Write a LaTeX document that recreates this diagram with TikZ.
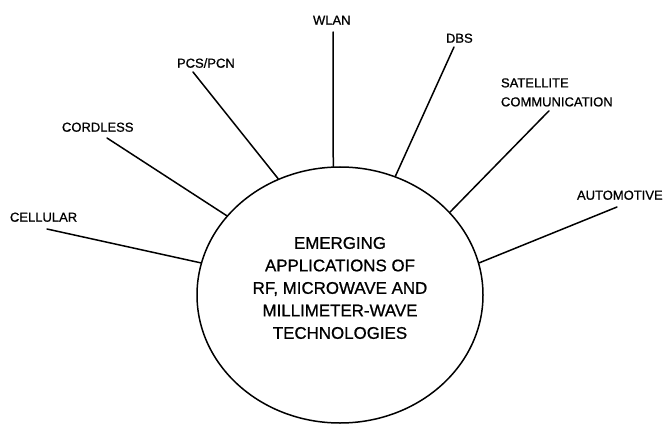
\documentclass[tikz,border=0pt]{standalone}
\usepackage{fontspec}
\setmainfont{Liberation Sans}[FakeBold=0.8]
\newfontfamily\heavy{Liberation Sans}[FakeBold=0.8]
\usetikzlibrary{shapes.geometric}

\tikzset{
  tag/.style={inner sep=0pt, outer sep=0pt, anchor=base west,
              font=\heavy\fontsize{13}{19}\selectfont},
  spoke/.style={line width=1.5pt, line cap=round},
  hub/.style={draw, ellipse, line width=1.5pt, inner sep=0pt,
              minimum width=286pt, minimum height=256pt}
}

\begin{document}
\begin{tikzpicture}[x=1pt, y=-1pt]
  \useasboundingbox (0,0) rectangle (664,425);

  % central ellipse and its title
  \node[hub] (hub) at (340,295) {};
  \node[align=center, inner sep=0pt, font=\heavy\fontsize{16.9}{22.5}\selectfont]
    (title) at (340,288)
    {EMERGING\\APPLICATIONS OF\\RF, MICROWAVE AND\\MILLIMETER-WAVE\\TECHNOLOGIES};

  % application labels
  \node[tag] (cell) at (10,221.7)  {CELLULAR};
  \node[tag] (cord) at (62,131.7)  {CORDLESS};
  \node[tag] (pcs)  at (177,67.7)  {PCS/PCN};
  \node[tag] (wlan) at (313,24.7)  {WLAN};
  \node[tag] (dbs)  at (446,42.7)  {DBS};
  \node[tag, anchor=north west, align=left] (sat) at (501,78.3)
    {SATELLITE\\COMMUNICATION};
  \node[tag] (auto) at (577,199.7) {AUTOMOTIVE};

  % spokes from each label to the ellipse
  \draw[spoke] ([shift={(37,7.3)}]cell.base west) -- (hub.167.9);
  \draw[spoke] ([shift={(45,6.3)}]cord.base west) -- (hub.145.6);
  \draw[spoke] ([shift={(16,4.3)}]pcs.base west)  -- (hub.118.7);
  \draw[spoke] ([shift={(20,7.3)}]wlan.base west) -- (hub.93.1);
  \draw[spoke] ([shift={(8,4.3)}]dbs.base west)   -- (hub.65.0);
  \draw[spoke] ([shift={(48,4.3)}]sat.south west) -- (hub.37.5);
  \draw[spoke] ([shift={(40,7.3)}]auto.base west) -- (hub.13.0);
\end{tikzpicture}
\end{document}
